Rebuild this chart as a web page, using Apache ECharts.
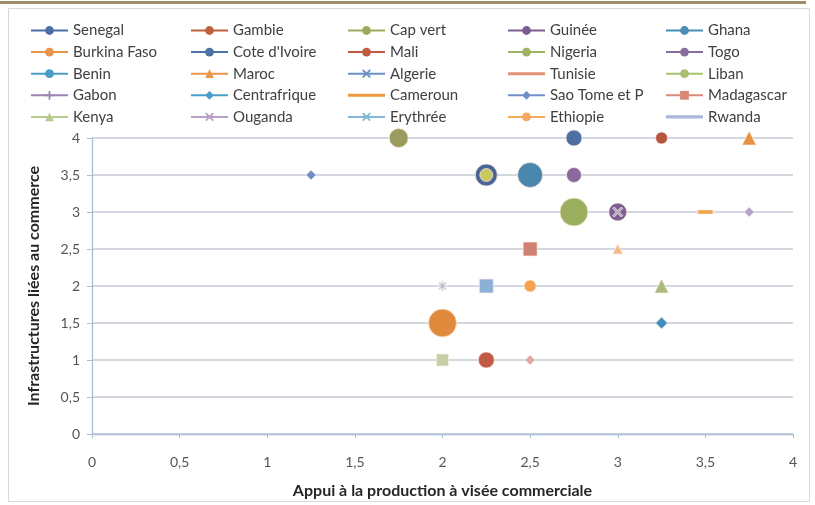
<!DOCTYPE html>
<html>
<head>
<meta charset="utf-8">
<script src="https://cdn.jsdelivr.net/npm/echarts@6/dist/echarts.min.js"></script>
<style>
html,body{margin:0;padding:0;background:#fff;}
#chart{width:815px;height:505px;}
</style>
</head>
<body>
<div id="chart"></div>
<script>
// ---- DATA ----
var countries = ["Senegal","Gambie","Cap vert","Guinée","Ghana",
  "Burkina Faso","Cote d'Ivoire","Mali","Nigeria","Togo",
  "Benin","Maroc","Algerie","Tunisie","Liban",
  "Gabon","Centrafrique","Cameroun","Sao Tome et P","Madagascar",
  "Kenya","Ouganda","Erythrée","Ethiopie","Rwanda"];
// Appui à la production à visée commerciale
var xValues = [2.75,2.25,1.75,3.0,2.5, 2.0,2.25,3.25,2.75,2.75, 2.25,3.75,2.0,3.0,2.25, 3.75,3.25,3.5,1.25,2.5, 3.25,3.0,2.0,2.5,2.5];
// Infrastructures liées au commerce
var yValues = [4,1,4,3,3.5, 1.5,3.5,4,3,3.5, 2,4,2,2.5,3.5, 3,1.5,3,3.5,2.5, 2,3,1,2,1];
// bubble values (third dimension)
var bubbleValues = [2.6,2.6,3.6,3.2,6.2, 7.8,4.8,1.5,7.8,2.3, 2.0,2.0,1.0,1.0,1.7, 1.0,1.4,2.0,1.0,2.0, 2.0,1.0,1.4,1.5,1.0];
var xTicks = [0,0.5,1,1.5,2,2.5,3,3.5,4];
var yTicks = [0,0.5,1,1.5,2,2.5,3,3.5,4];

// ---- STYLES ----
var X_PATH = 'path://M0,1.5L1.5,0L5,3.5L8.5,0L10,1.5L6.5,5L10,8.5L8.5,10L5,6.5L1.5,10L0,8.5L3.5,5Z';
var PLUS_PATH = 'path://M4,0H6V4H10V6H6V10H4V6H0V4H4Z';
var STAR_PATH = 'path://M4.3,0H5.7V3.3L8,1L9,2L6.7,4.3H10V5.7H6.7L9,8L8,9L5.7,6.7V10H4.3V6.7L2,9L1,8L3.3,5.7H0V4.3H3.3L1,2L2,1L4.3,3.3Z';
var LINE_ICON = 'path://M0,0L0.01,0M0,10L0.01,10M0,3.6H37V6.4H0Z';
var legendColors = ['#4c6fa3','#c0603f','#9aab5f','#7b5e8f','#4a8db5',
  '#e8944a','#4e71a6','#c05a40','#9db262','#8a6d9f',
  '#4a9cc8','#e8964a','#6a8fc6','#e2907a','#a9c06f',
  '#9c82b2','#4aa0cc','#f09a40','#7090c8','#d88a78',
  '#b6cb8e','#b8a0c8','#82b8d8','#f5a860','#a8b8d8'];
var legendSymbols = ['circle','circle','circle','circle','circle',
  'circle','circle','circle','circle','circle',
  'circle','triangle',X_PATH,'none','circle',
  PLUS_PATH,'diamond','none','diamond','rect',
  'triangle',X_PATH,X_PATH,'circle','none'];
var pointColors = ['#4d6fa4','#bf5a45','#9a9b5c','#7e5f92','#4a87ae',
  '#e08a3d','#4a6498','#b5553c','#9bae5e','#8a6a9e',
  '#8fb0d6','#e8913e','#a9bcd8','#f3b98a','#c9c862',
  '#b2a6cc','#3f8fc0','#f0a850','#6f8fc8','#cf8274',
  '#a9bb7c','#b8a6c8','#c5d0a8','#f4a150','#e0aaa0'];
var pointSymbols = ['circle','circle','circle','circle','circle',
  'circle','circle','circle','circle','circle',
  'rect','triangle',STAR_PATH,'triangle','circle',
  'diamond','diamond','rect','diamond','rect',
  'triangle',X_PATH,'rect','circle','diamond'];

function bubbleSize(v){ return Math.round(10*Math.sqrt(v)); }
function comma(v){ return String(v).replace('.', ','); }

var series = countries.map(function(name,i){
  var sym = pointSymbols[i];
  var size = bubbleSize(bubbleValues[i]);
  if (name === 'Cameroun') size = [16,4];
  return {
    name: name,
    type: 'line',
    symbol: legendSymbols[i] === 'none' ? 'circle' : legendSymbols[i],
    symbolSize: 8,
    color: legendColors[i],
    lineStyle: {width: 3, color: legendColors[i]},
    itemStyle: {color: legendColors[i]},
    emphasis: {disabled: true},
    animation: false,
    data: [{
      value: [xValues[i], yValues[i]],
      symbol: sym,
      symbolSize: size,
      itemStyle: {color: pointColors[i], borderColor: 'rgba(255,235,225,0.7)', borderWidth: 1}
    }]
  };
});

var columns = [[],[],[],[],[]];
countries.forEach(function(n,i){
  columns[i%5].push(legendSymbols[i] === 'none' ? {name: n, icon: LINE_ICON} : n);
});
var colLeft = [25,185,342,502,660];
var legends = columns.map(function(col,c){
  return {
    data: col,
    orient: 'vertical',
    left: colLeft[c],
    top: 18,
    itemWidth: 37,
    itemHeight: 11,
    itemGap: 6.6,
    symbolKeepAspect: false,
    selectedMode: false,
    textStyle: {fontFamily: 'Lato', fontSize: 15, color: '#404040', lineHeight: 14}
  };
});

var chart = echarts.init(document.getElementById('chart'), null, {renderer: 'canvas'});
chart.setOption({
  backgroundColor: '#ffffff',
  animation: false,
  graphic: [
    {type: 'rect', shape: {x: 8.5, y: 8.5, width: 801, height: 493}, style: {fill: 'none', stroke: '#d8d8d8', lineWidth: 1}, silent: true, z: -10},
    {type: 'rect', shape: {x: 0, y: 1, width: 806, height: 3}, style: {fill: '#9d8d66'}, silent: true}
  ],
  legend: legends,
  grid: {left: 92, right: 22, top: 138, bottom: 71},
  xAxis: {
    type: 'value', min: 0, max: 4, interval: 0.5,
    name: 'Appui à la production à visée commerciale',
    nameLocation: 'middle', nameGap: 49,
    nameTextStyle: {fontFamily: 'Lato', fontWeight: 'bold', fontSize: 16, color: '#262626'},
    axisLine: {lineStyle: {color: '#a9bdd3', width: 1.3}},
    axisTick: {show: true, length: 4, lineStyle: {color: '#a9bdd3'}},
    axisLabel: {fontFamily: 'Lato', fontSize: 14, color: '#555', margin: 21, formatter: function(v){ return xTicks.indexOf(v) >= 0 ? comma(v) : ''; }},
    splitLine: {show: false}
  },
  yAxis: {
    type: 'value', min: 0, max: 4, interval: 0.5,
    name: 'Infrastructures liées au commerce',
    nameLocation: 'middle', nameGap: 50,
    nameTextStyle: {fontFamily: 'Lato', fontWeight: 'bold', fontSize: 16, color: '#262626'},
    axisLine: {show: true, lineStyle: {color: '#a9bdd3', width: 1.3}},
    axisTick: {show: true, length: 5, lineStyle: {color: '#a9bdd3'}},
    axisLabel: {fontFamily: 'Lato', fontSize: 14, color: '#555', margin: 12, formatter: function(v){ return yTicks.indexOf(v) >= 0 ? comma(v) : ''; }},
    splitLine: {show: true, lineStyle: {color: '#c4cad6', width: 1.5}}
  },
  series: series
});
</script>
</body>
</html>
